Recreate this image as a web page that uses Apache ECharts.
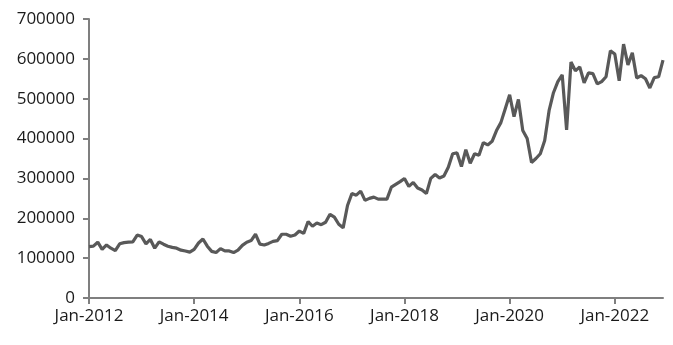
<!DOCTYPE html>
<html>
<head>
<meta charset="utf-8">
<script src="https://cdn.jsdelivr.net/npm/echarts@6/dist/echarts.min.js"></script>
<style>
html,body{margin:0;padding:0;background:#fff;}
#chart{width:673px;height:345px;}
</style>
</head>
<body>
<div id="chart"></div>
<script>
var monthNames = ['Jan','Feb','Mar','Apr','May','Jun','Jul','Aug','Sep','Oct','Nov','Dec'];
var years = [2012,2013,2014,2015,2016,2017,2018,2019,2020,2021,2022];
var categories = [];
years.forEach(function(y){ monthNames.forEach(function(m){ categories.push(m + '-' + y); }); });

var values2012 = [129000,130000,140000,122000,133000,125000,119000,136000,139000,140000,141000,158000];
var values2013 = [154000,136000,147000,125000,141000,135000,130000,127000,125000,120000,118000,115000];
var values2014 = [122000,138000,148000,130000,117000,114000,124000,118000,118000,114000,120000,132000];
var values2015 = [140000,144000,160000,135000,133000,137000,142000,144000,160000,160000,155000,158000];
var values2016 = [168000,162000,192000,180000,188000,184000,190000,210000,203000,185000,176000,232000];
var values2017 = [262000,258000,268000,245000,250000,253000,248000,248000,248000,278000,285000,292000];
var values2018 = [300000,280000,290000,276000,271000,262000,300000,310000,301000,306000,328000,362000];
var values2019 = [364000,330000,372000,338000,362000,358000,390000,384000,393000,420000,440000,475000];
var values2020 = [510000,455000,498000,420000,400000,340000,350000,362000,395000,470000,515000,543000];
var values2021 = [560000,422000,592000,570000,580000,540000,565000,563000,537000,543000,555000,620000];
var values2022 = [612000,545000,637000,585000,615000,552000,558000,550000,527000,553000,555000,597000];

var seriesValues = [].concat(values2012, values2013, values2014, values2015, values2016, values2017,
  values2018, values2019, values2020, values2021, values2022);

var yTicks = [0,100000,200000,300000,400000,500000,600000,700000];

var chart = echarts.init(document.getElementById('chart'));
var textStyle = {color:'#1a1a1a', fontSize:17, fontFamily:'"Open Sans", "Noto Sans", sans-serif'};
chart.setOption({
  animation:false,
  grid:{left:89, right:10, top:19, bottom:47, containLabel:false},
  xAxis:{
    type:'category',
    data:categories,
    boundaryGap:false,
    axisLine:{lineStyle:{color:'#7f7f7f', width:2}},
    axisTick:{show:true, interval:23, length:6, lineStyle:{color:'#7f7f7f', width:2}},
    axisLabel:Object.assign({interval:23, margin:10}, textStyle),
    splitLine:{show:false}
  },
  yAxis:{
    type:'value',
    min:yTicks[0],
    max:yTicks[yTicks.length-1],
    interval:100000,
    axisLine:{show:true, lineStyle:{color:'#7f7f7f', width:2}},
    axisTick:{show:true, length:6, lineStyle:{color:'#7f7f7f', width:2}},
    axisLabel:Object.assign({margin:14, formatter:function(v){ return String(v); }}, textStyle),
    splitLine:{show:false}
  },
  series:[{
    type:'line',
    data:seriesValues,
    symbol:'none',
    lineStyle:{color:'#595959', width:3.2},
    itemStyle:{color:'#595959'}
  }]
});
</script>
</body>
</html>
